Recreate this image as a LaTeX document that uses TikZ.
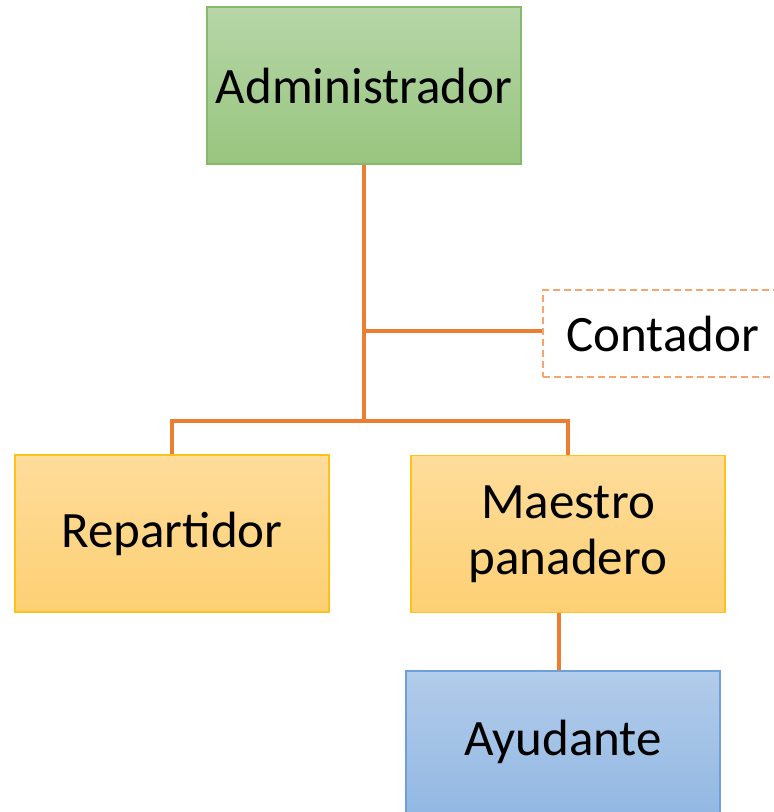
\documentclass[tikz,border=0pt]{standalone}
\usepackage{fontspec}
\setmainfont{Carlito}
\definecolor{gtop}{HTML}{B7D6A8}
\definecolor{gbot}{HTML}{97C57E}
\definecolor{gline}{HTML}{86B968}
\definecolor{otop}{HTML}{FEDC9B}
\definecolor{obot}{HTML}{FDD073}
\definecolor{oline}{HTML}{FFC21A}
\definecolor{btop}{HTML}{B2CCEA}
\definecolor{bbot}{HTML}{93B8E3}
\definecolor{bline}{HTML}{6E9FD7}
\definecolor{conn}{HTML}{ED7D31}
\definecolor{dashc}{HTML}{F4A66E}
\tikzset{
  box/.style={rectangle, minimum width=314pt, minimum height=157pt, inner sep=0pt,
    line width=1.2pt, font=\fontsize{51}{56}\selectfont, align=center, text=black},
  greenbox/.style={box, draw=gline, top color=gtop, bottom color=gbot},
  orangebox/.style={box, draw=oline, top color=otop, bottom color=obot},
  bluebox/.style={box, draw=bline, top color=btop, bottom color=bbot},
  dashbox/.style={rectangle, minimum width=240pt, minimum height=87pt, inner sep=0pt,
    draw=dashc, line width=1.5pt, dash pattern=on 7pt off 4pt, fill=white,
    font=\fontsize{51}{56}\selectfont},
  link/.style={draw=conn, line width=3.2pt}
}
\begin{document}
\begin{tikzpicture}[x=1pt,y=-1pt]
\useasboundingbox (0,0) rectangle (774,812);
\clip (0,0) rectangle (774,812);
\node[greenbox] (adm) at (364,85.5) {Administrador};
\node[dashbox] (con) at (663,333.5) {Contador};
\node[orangebox] (rep) at (172,533.5) {Repartidor};
\node[orangebox] (mae) at (568,534) {Maestro\\panadero};
\node[bluebox, minimum height=142pt] (ayu) at (563,742) {Ayudante};
\coordinate (jc) at (364,331);
\coordinate (j) at (364,421);
\draw[link] (adm.south) -- (j);
\draw[link] (jc) -- (jc -| con.west);
\draw[link] (rep.north) |- (j) -| (mae.north);
\draw[link] ([xshift=-4pt]ayu.north) -- ([xshift=-4pt]ayu.north |- mae.south);
\end{tikzpicture}
\end{document}
